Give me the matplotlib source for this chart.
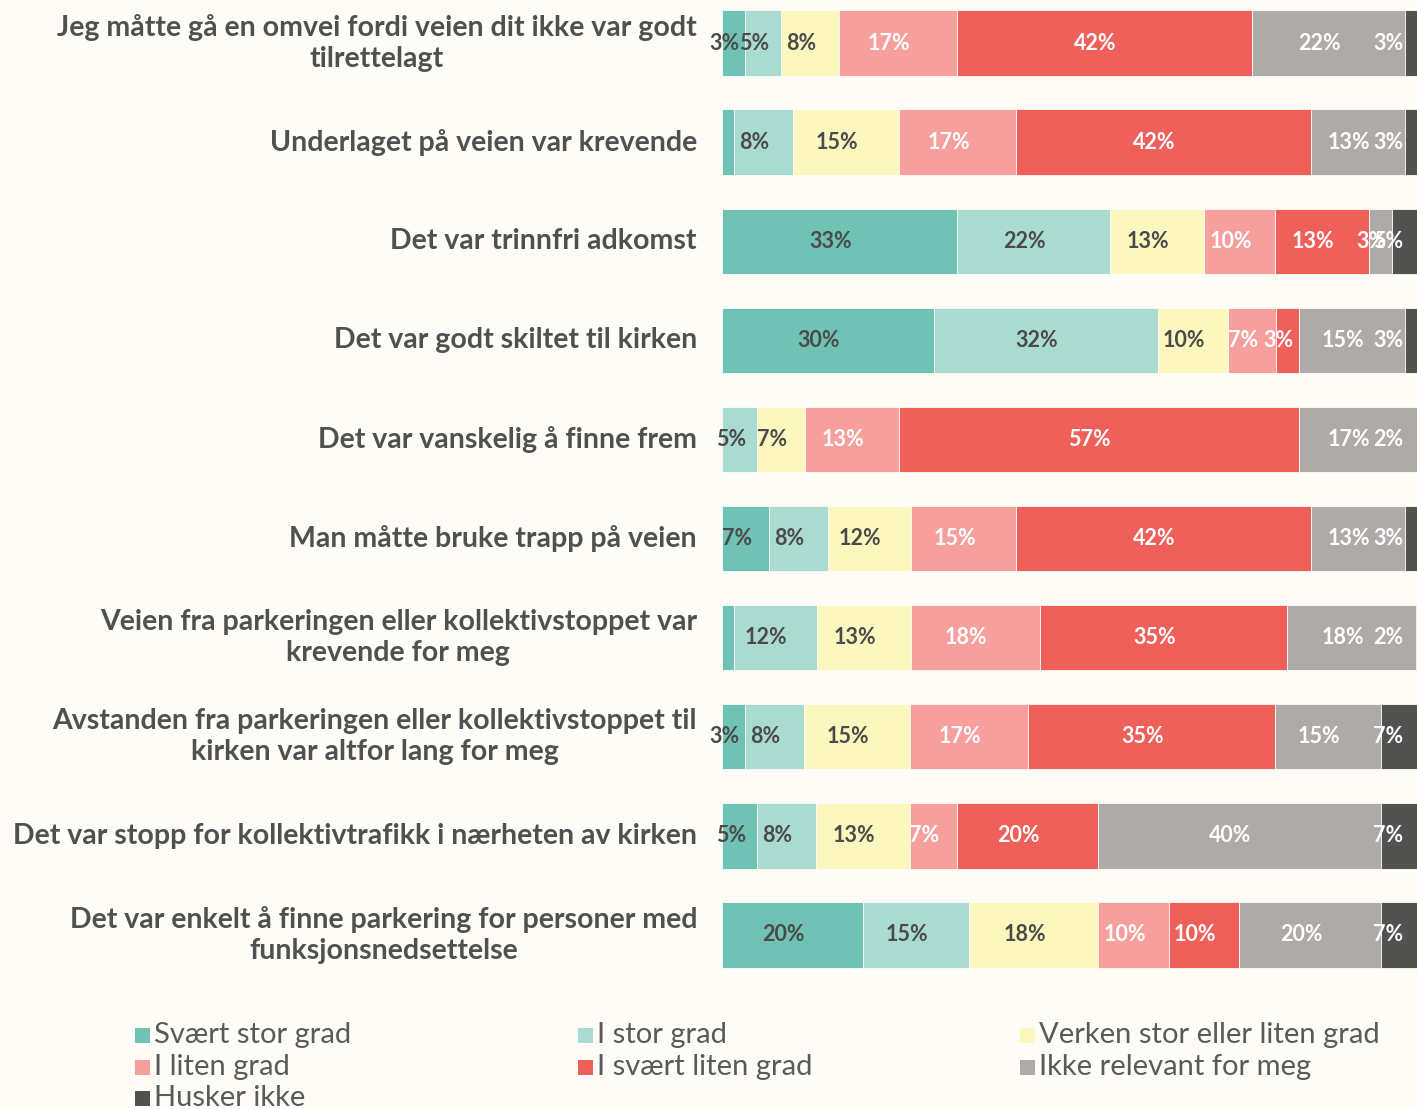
import matplotlib
matplotlib.use("Agg")
import matplotlib.pyplot as plt
from matplotlib.patches import Rectangle

categories = [
    "Jeg måtte gå en omvei fordi veien dit ikke var godt\ntilrettelagt",
    "Underlaget på veien var krevende",
    "Det var trinnfri adkomst",
    "Det var godt skiltet til kirken",
    "Det var vanskelig å finne frem",
    "Man måtte bruke trapp på veien",
    "Veien fra parkeringen eller kollektivstoppet var\nkrevende for meg",
    "Avstanden fra parkeringen eller kollektivstoppet til\nkirken var altfor lang for meg",
    "Det var stopp for kollektivtrafikk i nærheten av kirken",
    "Det var enkelt å finne parkering for personer med\nfunksjonsnedsettelse",
]

series_names = ["Svært stor grad", "I stor grad", "Verken stor eller liten grad",
                "I liten grad", "I svært liten grad", "Ikke relevant for meg", "Husker ikke"]

svaert_stor = [3.3, 1.7, 33.3, 30.0, 0.0, 6.7, 1.7, 3.3, 5.0, 20.0]
stor        = [5.0, 8.3, 21.7, 31.7, 5.0, 8.3, 11.7, 8.3, 8.3, 15.0]
verken      = [8.3, 15.0, 13.3, 10.0, 6.7, 11.7, 13.3, 15.0, 13.3, 18.3]
liten       = [16.7, 16.7, 10.0, 6.7, 13.3, 15.0, 18.3, 16.7, 6.7, 10.0]
svaert_lit  = [41.7, 41.7, 13.3, 3.3, 56.7, 41.7, 35.0, 35.0, 20.0, 10.0]
ikke_rel    = [21.7, 13.3, 3.3, 15.0, 16.7, 13.3, 18.3, 15.0, 40.0, 20.0]
husker      = [3.3, 3.3, 5.0, 3.3, 1.7, 3.3, 1.7, 6.7, 6.7, 6.7]

series = [svaert_stor, stor, verken, liten, svaert_lit, ikke_rel, husker]
colors = ["#70C3B4", "#AADBD1", "#FCF7BE", "#F69F9C", "#F0605B", "#AEAAA8", "#525351"]
label_colors = ["#4A4A4A", "#4A4A4A", "#4A4A4A", "white", "white", "white", "white"]

BG = "#FEFCF7"
W, H = 1417, 1109
fig = plt.figure(figsize=(W / 100, H / 100), dpi=100, facecolor=BG)

# axes in pixel coordinates
ax_left, ax_right = 722, 1428
ax_top, ax_bottom = 0, 985
ax = fig.add_axes([ax_left / W, 1 - ax_bottom / H, (ax_right - ax_left) / W, (ax_bottom - ax_top) / H])
ax.set_facecolor(BG)
for s in ax.spines.values():
    s.set_visible(False)

n = len(categories)
ypos = list(range(n))
left = [0.0] * n
bars_info = []
for si, (vals, col) in enumerate(zip(series, colors)):
    ax.barh(ypos, vals, left=left, height=0.66, color=col, edgecolor=BG, linewidth=0.6)
    for i, v in enumerate(vals):
        bars_info.append((si, i, left[i], v))
    left = [l + v for l, v in zip(left, vals)]

ax.set_xlim(0, 100)
ax.set_ylim(9 + 50 / 99.06, -43 / 99.06)
ax.set_xticks([])
ax.set_yticks(ypos)
ax.set_yticklabels([])
ax.tick_params(axis="y", length=0)

# category labels
for i, c in enumerate(categories):
    ax.annotate(c, xy=(0, i), xycoords=("axes fraction", "data"), xytext=(-25, 0),
                textcoords="offset pixels", ha="right", va="center", multialignment="center",
                fontsize=20.5, fontweight="bold", color="#505050", family="Lato",
                linespacing=1.24)

# data labels
texts = []
shift = -1.27
for si, i, l, v in bars_info:
    if v <= 0:
        continue
    if si == 0 and v < 2:
        continue
    t = ax.text(l + v / 2 + shift, i, f"{round(v)}%", ha="center", va="center",
                fontsize=15.5, fontweight="bold", color=label_colors[si], family="Lato")
    texts.append(t)

fig.canvas.draw()
r = fig.canvas.get_renderer()
limit_px = 1403
inv = ax.transData.inverted()
for t in texts:
    bb = t.get_window_extent(renderer=r)
    if bb.x1 > limit_px:
        x, y = t.get_position()
        xd = inv.transform((limit_px, 0))[0]
        t.set_position((xd, y))
        t.set_ha("right")

# legend (manual grid, 3 columns)
leg_cols_x = [135, 578, 1020]
leg_rows_y = [1035, 1067, 1098]
for k, (name, col) in enumerate(zip(series_names, colors)):
    cx = leg_cols_x[k % 3]
    cy = leg_rows_y[k // 3]
    sq = 15
    fig.patches.append(Rectangle((cx / W, 1 - (cy + sq / 2) / H), sq / W, sq / H,
                                 transform=fig.transFigure, facecolor=col, edgecolor="none"))
    fig.text((cx + sq + 4) / W, 1 - cy / H, name, ha="left", va="center",
             fontsize=21, color="#5A5A5A", family="Lato", fontweight="normal")

fig.savefig("out.png", dpi=100, facecolor=BG)
